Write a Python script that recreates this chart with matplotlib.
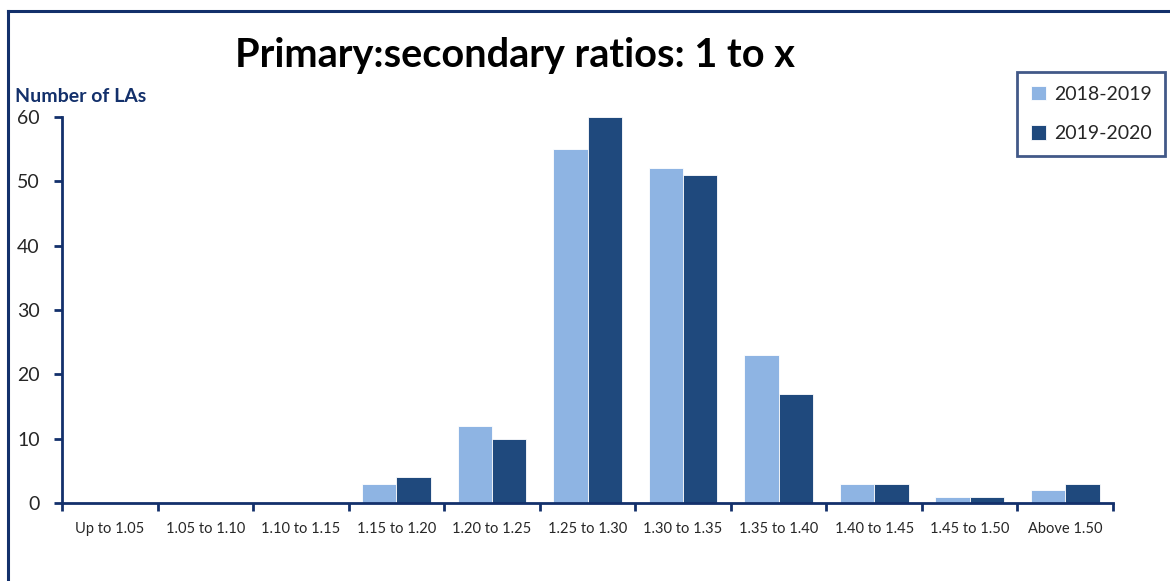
import matplotlib.pyplot as plt
import numpy as np
from matplotlib.lines import Line2D

plt.rcParams['font.family'] = ['Lato', 'DejaVu Sans']

categories = ['Up to 1.05', '1.05 to 1.10', '1.10 to 1.15', '1.15 to 1.20',
              '1.20 to 1.25', '1.25 to 1.30', '1.30 to 1.35', '1.35 to 1.40',
              '1.40 to 1.45', '1.45 to 1.50', 'Above 1.50']
y2018 = [0, 0, 0, 3, 12, 55, 52, 23, 3, 1, 2]
y2019 = [0, 0, 0, 4, 10, 60, 51, 17, 3, 1, 3]
series_names = ['2018-2019', '2019-2020']

light = '#8EB4E3'
dark = '#1F497D'
navy = '#13306B'

W, H = 1170, 581
fig = plt.figure(figsize=(W / 100, H / 100), dpi=100)
ax = fig.add_axes([62 / W, 78 / H, (1113 - 62) / W, (503 - 117) / H])

x = np.arange(len(categories))
bw = 0.36
ax.bar(x - bw / 2, y2018, bw, color=light, edgecolor='white', linewidth=0.6,
       label=series_names[0], zorder=2)
ax.bar(x + bw / 2, y2019, bw, color=dark, edgecolor='white', linewidth=0.6,
       label=series_names[1], zorder=2)

ax.set_xlim(-0.5, len(categories) - 0.5)
ax.set_ylim(0, 60)
ax.set_yticks(np.arange(0, 61, 10))
ax.set_xticks(x)
ax.set_xticklabels(categories, fontsize=10.5, color='#262626')
ax.set_xticks(np.arange(-0.5, len(categories), 1), minor=True)
ax.tick_params(axis='x', which='major', length=0, pad=14)
ax.tick_params(axis='x', which='minor', length=6, width=2, color=navy,
               direction='out')
ax.tick_params(axis='y', length=6, width=2, color=navy, labelsize=14,
               labelcolor='#262626', pad=10)

for s in ['top', 'right']:
    ax.spines[s].set_visible(False)
for s in ['left', 'bottom']:
    ax.spines[s].set_color(navy)
    ax.spines[s].set_linewidth(2)
ax.spines['bottom'].set_zorder(3)

fig.text(515 / W, 1 - 55 / H, 'Primary:secondary ratios: 1 to x',
         fontsize=28.5, fontweight='bold', ha='center', va='center')
fig.text(15 / W, 1 - 96 / H, 'Number of LAs', fontsize=14,
         fontweight='bold', color=navy, ha='left', va='center')

leg = fig.legend(loc='upper left', bbox_to_anchor=(1017 / W, 1 - 72 / H),
                 fontsize=14, frameon=True, fancybox=False,
                 handlelength=0.8, handleheight=0.8, handletextpad=0.4,
                 labelspacing=1.15, borderpad=0.7, borderaxespad=0)
leg.get_frame().set_edgecolor(navy)
leg.get_frame().set_linewidth(2)
for t in leg.get_texts():
    t.set_color('#262626')

# outer frame (cut off at right and bottom)
fig.add_artist(Line2D([8 / W, 8 / W], [0, 1 - 11 / H], transform=fig.transFigure,
                      color=navy, linewidth=2.2))
fig.add_artist(Line2D([8 / W, 1], [1 - 11 / H, 1 - 11 / H], transform=fig.transFigure,
                      color=navy, linewidth=2.2))

fig.savefig('out.png', dpi=100, facecolor='white')
